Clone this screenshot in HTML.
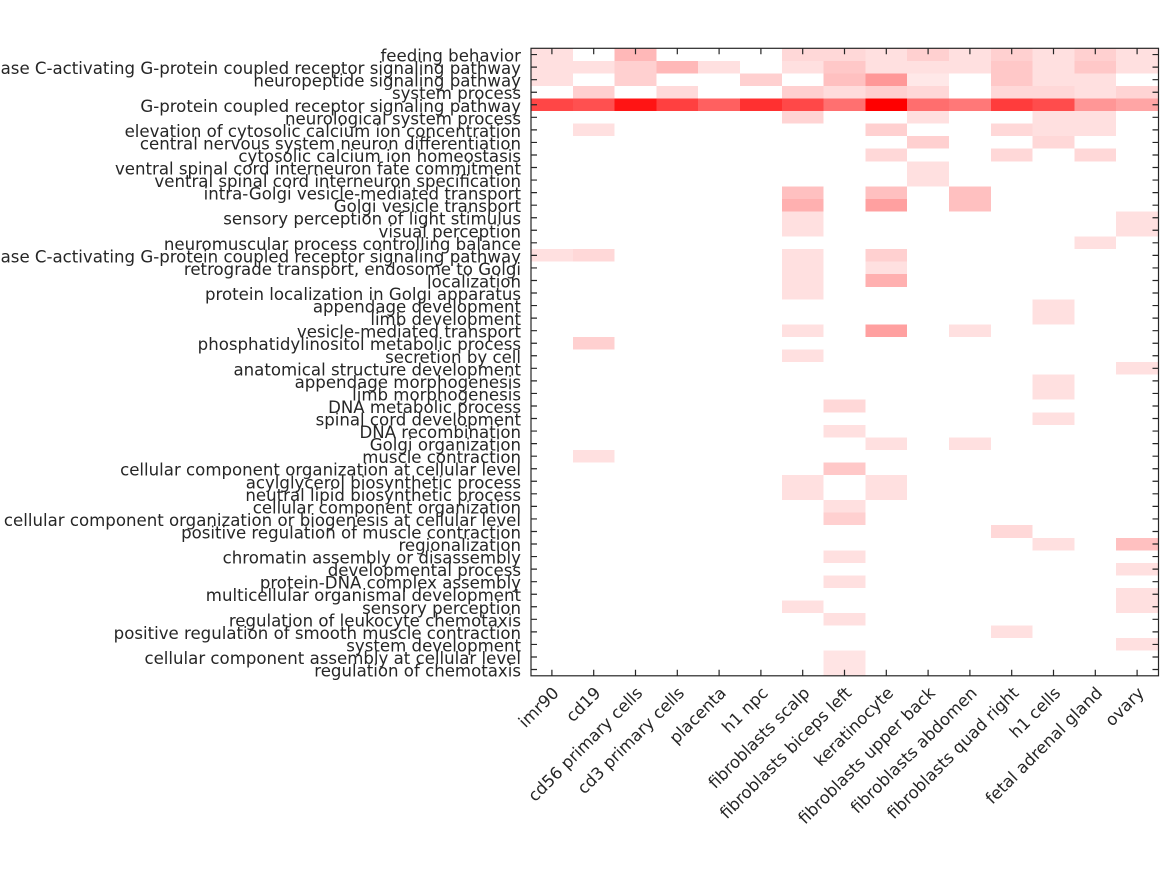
<!DOCTYPE html>
<html>
<head>
<meta charset="utf-8">
<style>
html,body{margin:0;padding:0;background:#fff;}
svg{display:block;}
text{font-family:"DejaVu Sans","Liberation Sans",sans-serif;font-size:16.6px;fill:#262626;}
</style>
</head>
<body>
<svg width="1167" height="875" viewBox="0 0 1167 875" xmlns="http://www.w3.org/2000/svg">
<rect x="0" y="0" width="1167" height="875" fill="#fff"/>
<g transform="translate(531 48.3) scale(41.8 12.55)" shape-rendering="crispEdges">
<!-- row 1 -->
<rect x="0" y="0" width="1" height="1" fill="rgb(255,224,224)"/>
<rect x="2" y="0" width="1" height="1" fill="rgb(255,184,184)"/>
<rect x="6" y="0" width="1" height="1" fill="rgb(255,216,216)"/>
<rect x="7" y="0" width="1" height="1" fill="rgb(255,216,216)"/>
<rect x="8" y="0" width="1" height="1" fill="rgb(255,224,224)"/>
<rect x="9" y="0" width="1" height="1" fill="rgb(255,208,208)"/>
<rect x="10" y="0" width="1" height="1" fill="rgb(255,224,224)"/>
<rect x="11" y="0" width="1" height="1" fill="rgb(255,208,208)"/>
<rect x="12" y="0" width="1" height="1" fill="rgb(255,224,224)"/>
<rect x="13" y="0" width="1" height="1" fill="rgb(255,208,208)"/>
<rect x="14" y="0" width="1" height="1" fill="rgb(255,224,224)"/>
<!-- row 2 -->
<rect x="0" y="1" width="1" height="1" fill="rgb(255,224,224)"/>
<rect x="1" y="1" width="1" height="1" fill="rgb(255,224,224)"/>
<rect x="2" y="1" width="1" height="1" fill="rgb(255,208,208)"/>
<rect x="3" y="1" width="1" height="1" fill="rgb(255,184,184)"/>
<rect x="4" y="1" width="1" height="1" fill="rgb(255,224,224)"/>
<rect x="6" y="1" width="1" height="1" fill="rgb(255,224,224)"/>
<rect x="7" y="1" width="1" height="1" fill="rgb(255,200,200)"/>
<rect x="8" y="1" width="1" height="1" fill="rgb(255,224,224)"/>
<rect x="9" y="1" width="1" height="1" fill="rgb(255,224,224)"/>
<rect x="10" y="1" width="1" height="1" fill="rgb(255,224,224)"/>
<rect x="11" y="1" width="1" height="1" fill="rgb(255,200,200)"/>
<rect x="12" y="1" width="1" height="1" fill="rgb(255,224,224)"/>
<rect x="13" y="1" width="1" height="1" fill="rgb(255,200,200)"/>
<rect x="14" y="1" width="1" height="1" fill="rgb(255,224,224)"/>
<!-- row 3 -->
<rect x="0" y="2" width="1" height="1" fill="rgb(255,224,224)"/>
<rect x="2" y="2" width="1" height="1" fill="rgb(255,208,208)"/>
<rect x="5" y="2" width="1" height="1" fill="rgb(255,208,208)"/>
<rect x="7" y="2" width="1" height="1" fill="rgb(255,192,192)"/>
<rect x="8" y="2" width="1" height="1" fill="rgb(255,152,152)"/>
<rect x="9" y="2" width="1" height="1" fill="rgb(255,232,232)"/>
<rect x="11" y="2" width="1" height="1" fill="rgb(255,200,200)"/>
<rect x="12" y="2" width="1" height="1" fill="rgb(255,224,224)"/>
<rect x="13" y="2" width="1" height="1" fill="rgb(255,224,224)"/>
<!-- row 4 -->
<rect x="1" y="3" width="1" height="1" fill="rgb(255,208,208)"/>
<rect x="3" y="3" width="1" height="1" fill="rgb(255,218,218)"/>
<rect x="6" y="3" width="1" height="1" fill="rgb(255,208,208)"/>
<rect x="7" y="3" width="1" height="1" fill="rgb(255,220,220)"/>
<rect x="8" y="3" width="1" height="1" fill="rgb(255,208,208)"/>
<rect x="9" y="3" width="1" height="1" fill="rgb(255,216,216)"/>
<rect x="11" y="3" width="1" height="1" fill="rgb(255,216,216)"/>
<rect x="12" y="3" width="1" height="1" fill="rgb(255,216,216)"/>
<rect x="13" y="3" width="1" height="1" fill="rgb(255,224,224)"/>
<rect x="14" y="3" width="1" height="1" fill="rgb(255,212,212)"/>
<!-- row 5 -->
<rect x="0" y="4" width="1" height="1" fill="rgb(255,70,70)"/>
<rect x="1" y="4" width="1" height="1" fill="rgb(255,80,80)"/>
<rect x="2" y="4" width="1" height="1" fill="rgb(255,20,20)"/>
<rect x="3" y="4" width="1" height="1" fill="rgb(255,64,64)"/>
<rect x="4" y="4" width="1" height="1" fill="rgb(255,96,96)"/>
<rect x="5" y="4" width="1" height="1" fill="rgb(255,48,48)"/>
<rect x="6" y="4" width="1" height="1" fill="rgb(255,72,72)"/>
<rect x="7" y="4" width="1" height="1" fill="rgb(255,112,112)"/>
<rect x="8" y="4" width="1" height="1" fill="rgb(255,0,0)"/>
<rect x="9" y="4" width="1" height="1" fill="rgb(255,110,110)"/>
<rect x="10" y="4" width="1" height="1" fill="rgb(255,120,120)"/>
<rect x="11" y="4" width="1" height="1" fill="rgb(255,60,60)"/>
<rect x="12" y="4" width="1" height="1" fill="rgb(255,76,76)"/>
<rect x="13" y="4" width="1" height="1" fill="rgb(255,150,150)"/>
<rect x="14" y="4" width="1" height="1" fill="rgb(255,165,165)"/>
<!-- row 6 -->
<rect x="6" y="5" width="1" height="1" fill="rgb(255,212,212)"/>
<rect x="9" y="5" width="1" height="1" fill="rgb(255,224,224)"/>
<rect x="12" y="5" width="1" height="1" fill="rgb(255,224,224)"/>
<rect x="13" y="5" width="1" height="1" fill="rgb(255,224,224)"/>
<!-- row 7 -->
<rect x="1" y="6" width="1" height="1" fill="rgb(255,224,224)"/>
<rect x="8" y="6" width="1" height="1" fill="rgb(255,208,208)"/>
<rect x="11" y="6" width="1" height="1" fill="rgb(255,216,216)"/>
<rect x="12" y="6" width="1" height="1" fill="rgb(255,224,224)"/>
<rect x="13" y="6" width="1" height="1" fill="rgb(255,224,224)"/>
<!-- row 8 -->
<rect x="9" y="7" width="1" height="1" fill="rgb(255,208,208)"/>
<rect x="12" y="7" width="1" height="1" fill="rgb(255,216,216)"/>
<!-- row 9 -->
<rect x="8" y="8" width="1" height="1" fill="rgb(255,216,216)"/>
<rect x="11" y="8" width="1" height="1" fill="rgb(255,216,216)"/>
<rect x="13" y="8" width="1" height="1" fill="rgb(255,216,216)"/>
<!-- rows 10-11 -->
<rect x="9" y="9" width="1" height="2" fill="rgb(255,224,224)"/>
<!-- row 12 -->
<rect x="6" y="11" width="1" height="1" fill="rgb(255,192,192)"/>
<rect x="8" y="11" width="1" height="1" fill="rgb(255,192,192)"/>
<rect x="10" y="11" width="1" height="1" fill="rgb(255,192,192)"/>
<!-- row 13 -->
<rect x="6" y="12" width="1" height="1" fill="rgb(255,176,176)"/>
<rect x="8" y="12" width="1" height="1" fill="rgb(255,160,160)"/>
<rect x="10" y="12" width="1" height="1" fill="rgb(255,192,192)"/>
<!-- rows 14-15 -->
<rect x="6" y="13" width="1" height="2" fill="rgb(255,224,224)"/>
<rect x="14" y="13" width="1" height="2" fill="rgb(255,224,224)"/>
<!-- row 16 -->
<rect x="13" y="15" width="1" height="1" fill="rgb(255,224,224)"/>
<!-- row 17 -->
<rect x="0" y="16" width="1" height="1" fill="rgb(255,224,224)"/>
<rect x="1" y="16" width="1" height="1" fill="rgb(255,216,216)"/>
<rect x="6" y="16" width="1" height="4" fill="rgb(255,224,224)"/>
<rect x="8" y="16" width="1" height="1" fill="rgb(255,208,208)"/>
<!-- row 18 -->
<rect x="8" y="17" width="1" height="1" fill="rgb(255,224,224)"/>
<!-- row 19 -->
<rect x="8" y="18" width="1" height="1" fill="rgb(255,176,176)"/>
<!-- rows 21-22 -->
<rect x="12" y="20" width="1" height="2" fill="rgb(255,224,224)"/>
<!-- row 23 -->
<rect x="6" y="22" width="1" height="1" fill="rgb(255,224,224)"/>
<rect x="8" y="22" width="1" height="1" fill="rgb(255,160,160)"/>
<rect x="10" y="22" width="1" height="1" fill="rgb(255,224,224)"/>
<!-- row 24 -->
<rect x="1" y="23" width="1" height="1" fill="rgb(255,208,208)"/>
<!-- row 25 -->
<rect x="6" y="24" width="1" height="1" fill="rgb(255,224,224)"/>
<!-- row 26 -->
<rect x="14" y="25" width="1" height="1" fill="rgb(255,224,224)"/>
<!-- rows 27-28 -->
<rect x="12" y="26" width="1" height="2" fill="rgb(255,224,224)"/>
<!-- row 29 -->
<rect x="7" y="28" width="1" height="1" fill="rgb(255,216,216)"/>
<!-- row 30 -->
<rect x="12" y="29" width="1" height="1" fill="rgb(255,224,224)"/>
<!-- row 31 -->
<rect x="7" y="30" width="1" height="1" fill="rgb(255,224,224)"/>
<!-- row 32 -->
<rect x="8" y="31" width="1" height="1" fill="rgb(255,224,224)"/>
<rect x="10" y="31" width="1" height="1" fill="rgb(255,224,224)"/>
<!-- row 33 -->
<rect x="1" y="32" width="1" height="1" fill="rgb(255,224,224)"/>
<!-- row 34 -->
<rect x="7" y="33" width="1" height="1" fill="rgb(255,200,200)"/>
<!-- rows 35-36 -->
<rect x="6" y="34" width="1" height="2" fill="rgb(255,224,224)"/>
<rect x="8" y="34" width="1" height="2" fill="rgb(255,224,224)"/>
<!-- row 37 -->
<rect x="7" y="36" width="1" height="1" fill="rgb(255,224,224)"/>
<!-- row 38 -->
<rect x="7" y="37" width="1" height="1" fill="rgb(255,208,208)"/>
<!-- row 39 -->
<rect x="11" y="38" width="1" height="1" fill="rgb(255,216,216)"/>
<!-- row 40 -->
<rect x="12" y="39" width="1" height="1" fill="rgb(255,224,224)"/>
<rect x="14" y="39" width="1" height="1" fill="rgb(255,192,192)"/>
<!-- row 41 -->
<rect x="7" y="40" width="1" height="1" fill="rgb(255,224,224)"/>
<!-- row 42 -->
<rect x="14" y="41" width="1" height="1" fill="rgb(255,224,224)"/>
<!-- row 43 -->
<rect x="7" y="42" width="1" height="1" fill="rgb(255,224,224)"/>
<!-- rows 44-45 -->
<rect x="14" y="43" width="1" height="2" fill="rgb(255,224,224)"/>
<rect x="6" y="44" width="1" height="1" fill="rgb(255,224,224)"/>
<!-- row 46 -->
<rect x="7" y="45" width="1" height="1" fill="rgb(255,224,224)"/>
<!-- row 47 -->
<rect x="11" y="46" width="1" height="1" fill="rgb(255,224,224)"/>
<!-- row 48 -->
<rect x="14" y="47" width="1" height="1" fill="rgb(255,224,224)"/>
<!-- rows 49-50 -->
<rect x="7" y="48" width="1" height="2" fill="rgb(255,228,228)"/>
</g>

<!-- axes box -->
<rect x="531" y="48.3" width="627.5" height="627.5" fill="none" stroke="#262626" stroke-width="1.2"/>

<!-- ticks -->
<path stroke="#262626" stroke-width="1.2" fill="none" d="
M551.9 48.3v6M593.7 48.3v6M635.5 48.3v6M677.3 48.3v6M719.1 48.3v6M760.9 48.3v6M802.7 48.3v6M844.5 48.3v6M886.3 48.3v6M928.1 48.3v6M969.9 48.3v6M1011.7 48.3v6M1053.5 48.3v6M1095.3 48.3v6M1137.1 48.3v6
M551.9 675.8v-6M593.7 675.8v-6M635.5 675.8v-6M677.3 675.8v-6M719.1 675.8v-6M760.9 675.8v-6M802.7 675.8v-6M844.5 675.8v-6M886.3 675.8v-6M928.1 675.8v-6M969.9 675.8v-6M1011.7 675.8v-6M1053.5 675.8v-6M1095.3 675.8v-6M1137.1 675.8v-6
M531 54.58h6M531 67.13h6M531 79.68h6M531 92.23h6M531 104.78h6M531 117.33h6M531 129.88h6M531 142.43h6M531 154.98h6M531 167.53h6
M531 180.08h6M531 192.63h6M531 205.18h6M531 217.73h6M531 230.28h6M531 242.83h6M531 255.38h6M531 267.93h6M531 280.48h6M531 293.03h6
M531 305.58h6M531 318.13h6M531 330.68h6M531 343.23h6M531 355.78h6M531 368.33h6M531 380.88h6M531 393.43h6M531 405.98h6M531 418.53h6
M531 431.08h6M531 443.63h6M531 456.18h6M531 468.73h6M531 481.28h6M531 493.83h6M531 506.38h6M531 518.93h6M531 531.48h6M531 544.03h6
M531 556.58h6M531 569.13h6M531 581.68h6M531 594.23h6M531 606.78h6M531 619.33h6M531 631.88h6M531 644.43h6M531 656.98h6M531 669.53h6
M1158.5 54.58h-6M1158.5 67.13h-6M1158.5 79.68h-6M1158.5 92.23h-6M1158.5 104.78h-6M1158.5 117.33h-6M1158.5 129.88h-6M1158.5 142.43h-6M1158.5 154.98h-6M1158.5 167.53h-6
M1158.5 180.08h-6M1158.5 192.63h-6M1158.5 205.18h-6M1158.5 217.73h-6M1158.5 230.28h-6M1158.5 242.83h-6M1158.5 255.38h-6M1158.5 267.93h-6M1158.5 280.48h-6M1158.5 293.03h-6
M1158.5 305.58h-6M1158.5 318.13h-6M1158.5 330.68h-6M1158.5 343.23h-6M1158.5 355.78h-6M1158.5 368.33h-6M1158.5 380.88h-6M1158.5 393.43h-6M1158.5 405.98h-6M1158.5 418.53h-6
M1158.5 431.08h-6M1158.5 443.63h-6M1158.5 456.18h-6M1158.5 468.73h-6M1158.5 481.28h-6M1158.5 493.83h-6M1158.5 506.38h-6M1158.5 518.93h-6M1158.5 531.48h-6M1158.5 544.03h-6
M1158.5 556.58h-6M1158.5 569.13h-6M1158.5 581.68h-6M1158.5 594.23h-6M1158.5 606.78h-6M1158.5 619.33h-6M1158.5 631.88h-6M1158.5 644.43h-6M1158.5 656.98h-6M1158.5 669.53h-6"/>

<!-- y labels -->
<g text-anchor="end">
<text x="521" y="61.6">feeding behavior</text>
<text x="521" y="74.1">phospholipase C-activating G-protein coupled receptor signaling pathway</text>
<text x="521" y="86.7">neuropeptide signaling pathway</text>
<text x="521" y="99.2">system process</text>
<text x="521" y="111.8">G-protein coupled receptor signaling pathway</text>
<text x="521" y="124.3">neurological system process</text>
<text x="521" y="136.9">elevation of cytosolic calcium ion concentration</text>
<text x="521" y="149.4">central nervous system neuron differentiation</text>
<text x="521" y="162.0">cytosolic calcium ion homeostasis</text>
<text x="521" y="174.5">ventral spinal cord interneuron fate commitment</text>
<text x="521" y="187.1">ventral spinal cord interneuron specification</text>
<text x="521" y="199.6">intra-Golgi vesicle-mediated transport</text>
<text x="521" y="212.2">Golgi vesicle transport</text>
<text x="521" y="224.7">sensory perception of light stimulus</text>
<text x="521" y="237.3">visual perception</text>
<text x="521" y="249.8">neuromuscular process controlling balance</text>
<text x="521" y="262.4">phospholipase C-activating G-protein coupled receptor signaling pathway</text>
<text x="521" y="274.9">retrograde transport, endosome to Golgi</text>
<text x="521" y="287.5">localization</text>
<text x="521" y="300.0">protein localization in Golgi apparatus</text>
<text x="521" y="312.6">appendage development</text>
<text x="521" y="325.1">limb development</text>
<text x="521" y="337.7">vesicle-mediated transport</text>
<text x="521" y="350.2">phosphatidylinositol metabolic process</text>
<text x="521" y="362.8">secretion by cell</text>
<text x="521" y="375.3">anatomical structure development</text>
<text x="521" y="387.9">appendage morphogenesis</text>
<text x="521" y="400.4">limb morphogenesis</text>
<text x="521" y="413.0">DNA metabolic process</text>
<text x="521" y="425.5">spinal cord development</text>
<text x="521" y="438.1">DNA recombination</text>
<text x="521" y="450.6">Golgi organization</text>
<text x="521" y="463.2">muscle contraction</text>
<text x="521" y="475.7">cellular component organization at cellular level</text>
<text x="521" y="488.3">acylglycerol biosynthetic process</text>
<text x="521" y="500.8">neutral lipid biosynthetic process</text>
<text x="521" y="513.4">cellular component organization</text>
<text x="521" y="525.9">cellular component organization or biogenesis at cellular level</text>
<text x="521" y="538.5">positive regulation of muscle contraction</text>
<text x="521" y="551.0">regionalization</text>
<text x="521" y="563.6">chromatin assembly or disassembly</text>
<text x="521" y="576.1">developmental process</text>
<text x="521" y="588.7">protein-DNA complex assembly</text>
<text x="521" y="601.2">multicellular organismal development</text>
<text x="521" y="613.8">sensory perception</text>
<text x="521" y="626.3">regulation of leukocyte chemotaxis</text>
<text x="521" y="638.9">positive regulation of smooth muscle contraction</text>
<text x="521" y="651.4">system development</text>
<text x="521" y="664.0">cellular component assembly at cellular level</text>
<text x="521" y="676.5">regulation of chemotaxis</text>
</g>

<!-- x labels -->
<g text-anchor="end">
<text transform="translate(559.9 694) rotate(-45)">imr90</text>
<text transform="translate(601.7 694) rotate(-45)">cd19</text>
<text transform="translate(643.5 694) rotate(-45)">cd56 primary cells</text>
<text transform="translate(685.3 694) rotate(-45)">cd3 primary cells</text>
<text transform="translate(727.1 694) rotate(-45)">placenta</text>
<text transform="translate(768.9 694) rotate(-45)">h1 npc</text>
<text transform="translate(810.7 694) rotate(-45)">fibroblasts scalp</text>
<text transform="translate(852.5 694) rotate(-45)">fibroblasts biceps left</text>
<text transform="translate(894.3 694) rotate(-45)">keratinocyte</text>
<text transform="translate(936.1 694) rotate(-45)">fibroblasts upper back</text>
<text transform="translate(977.9 694) rotate(-45)">fibroblasts abdomen</text>
<text transform="translate(1019.7 694) rotate(-45)">fibroblasts quad right</text>
<text transform="translate(1061.5 694) rotate(-45)">h1 cells</text>
<text transform="translate(1103.3 694) rotate(-45)">fetal adrenal gland</text>
<text transform="translate(1145.1 694) rotate(-45)">ovary</text>
</g>
</svg>
</body>
</html>
